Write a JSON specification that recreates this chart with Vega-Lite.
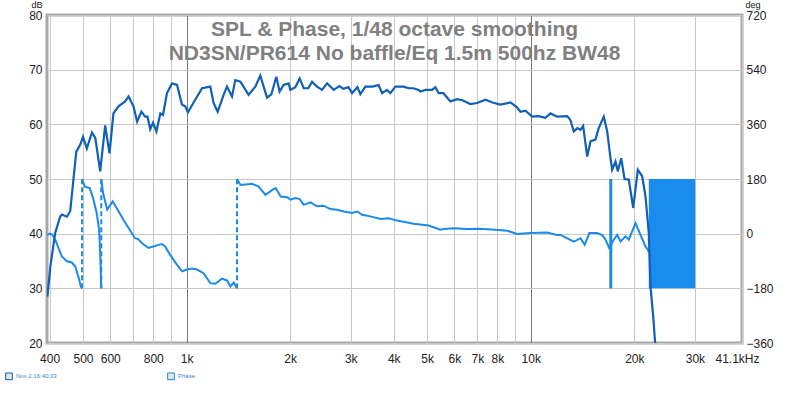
{
  "$schema": "https://vega.github.io/schema/vega-lite/v6.json",
  "autosize": {"type": "none"},
  "padding": {"left": 47, "top": 15, "right": 58, "bottom": 55},
  "width": 695,
  "height": 328,
  "background": "white",
  "config": {
    "view": {"stroke": "#a8a8a8", "strokeWidth": 3},
    "font": "Liberation Sans",
    "axis": {"labelFont": "Liberation Sans", "labelFontSize": 12, "labelColor": "#222222", "titleFont": "Liberation Sans", "titleFontSize": 9, "titleFontWeight": "normal", "titleColor": "#222222", "domain": false, "ticks": false}
  },
  "title": {
    "text": ["SPL & Phase, 1/48 octave smoothing", "ND3SN/PR614 No baffle/Eq 1.5m 500hz BW48"],
    "anchor": "middle", "frame": "group", "font": "Liberation Sans", "fontSize": 21, "fontWeight": "bold", "color": "#808080", "lineHeight": 24, "baseline": "top", "offset": -64
  },
  "datasets": {
    "spl": [
      {"f":394,"db":28.5},{"f":402,"db":34.0},{"f":415,"db":40.1},{"f":429,"db":43.1},{"f":434,"db":43.5},{"f":449,"db":43.1},{"f":459,"db":44.1},{"f":469,"db":49.9},{"f":478,"db":55.0},{"f":491,"db":56.3},{"f":500,"db":57.7},{"f":513,"db":55.6},{"f":531,"db":58.5},{"f":543,"db":57.5},{"f":561,"db":51.4},{"f":580,"db":59.8},{"f":597,"db":54.7},{"f":613,"db":62.0},{"f":634,"db":63.3},{"f":663,"db":64.2},{"f":678,"db":65.1},{"f":701,"db":63.3},{"f":718,"db":60.5},{"f":739,"db":62.3},{"f":758,"db":61.4},{"f":770,"db":61.4},{"f":784,"db":59.1},{"f":799,"db":60.3},{"f":817,"db":58.7},{"f":839,"db":62.0},{"f":854,"db":61.7},{"f":877,"db":65.7},{"f":907,"db":67.5},{"f":938,"db":67.2},{"f":970,"db":63.6},{"f":991,"db":63.3},{"f":1009,"db":62.2},{"f":1048,"db":64.0},{"f":1109,"db":66.6},{"f":1172,"db":66.9},{"f":1198,"db":63.9},{"f":1231,"db":62.3},{"f":1281,"db":65.4},{"f":1310,"db":66.9},{"f":1355,"db":65.1},{"f":1385,"db":68.1},{"f":1433,"db":67.8},{"f":1514,"db":65.4},{"f":1584,"db":66.9},{"f":1637,"db":68.9},{"f":1713,"db":64.9},{"f":1763,"db":65.5},{"f":1823,"db":68.7},{"f":1863,"db":66.0},{"f":1914,"db":67.2},{"f":1979,"db":67.5},{"f":2002,"db":66.3},{"f":2070,"db":66.8},{"f":2131,"db":68.4},{"f":2189,"db":66.6},{"f":2258,"db":66.6},{"f":2315,"db":67.8},{"f":2393,"db":66.9},{"f":2475,"db":66.3},{"f":2559,"db":67.5},{"f":2675,"db":66.3},{"f":2779,"db":67.0},{"f":2855,"db":66.5},{"f":2952,"db":66.8},{"f":3026,"db":65.7},{"f":3135,"db":66.8},{"f":3198,"db":65.5},{"f":3307,"db":66.9},{"f":3466,"db":66.9},{"f":3615,"db":67.2},{"f":3698,"db":65.7},{"f":3824,"db":66.3},{"f":3910,"db":65.7},{"f":4045,"db":66.9},{"f":4266,"db":66.9},{"f":4419,"db":66.6},{"f":4560,"db":66.6},{"f":4725,"db":66.3},{"f":4779,"db":66.0},{"f":4942,"db":66.3},{"f":5169,"db":66.3},{"f":5284,"db":66.8},{"f":5402,"db":65.7},{"f":5574,"db":65.7},{"f":5842,"db":64.2},{"f":6109,"db":64.6},{"f":6330,"db":64.4},{"f":6677,"db":63.7},{"f":6984,"db":63.9},{"f":7386,"db":64.5},{"f":7740,"db":64.0},{"f":8166,"db":63.6},{"f":8730,"db":64.0},{"f":9087,"db":63.2},{"f":9335,"db":62.3},{"f":9652,"db":62.5},{"f":10094,"db":61.4},{"f":10530,"db":61.5},{"f":11030,"db":61.2},{"f":11410,"db":62.0},{"f":11930,"db":61.4},{"f":12760,"db":61.5},{"f":13040,"db":60.8},{"f":13340,"db":58.7},{"f":13670,"db":59.3},{"f":13950,"db":59.0},{"f":14200,"db":59.7},{"f":14590,"db":54.1},{"f":14920,"db":56.9},{"f":15420,"db":57.2},{"f":15760,"db":59.3},{"f":16300,"db":61.4},{"f":16680,"db":58.7},{"f":17050,"db":53.8},{"f":17240,"db":51.7},{"f":17630,"db":53.2},{"f":17900,"db":51.4},{"f":18320,"db":53.8},{"f":18730,"db":50.0},{"f":19270,"db":49.9},{"f":19850,"db":44.7},{"f":20470,"db":51.7},{"f":21080,"db":50.5},{"f":21550,"db":46.8},{"f":22030,"db":40.1},{"f":22280,"db":30.3},{"f":22690,"db":24.9},{"f":23040,"db":19.1},{"f":23300,"db":16.0}
    ],
    "phase": [
      {"f":394,"deg":-4,"seg":1},{"f":400,"deg":0,"seg":1},{"f":406,"deg":-2,"seg":1},{"f":415,"deg":-19,"seg":1},{"f":434,"deg":-75,"seg":1},{"f":449,"deg":-91,"seg":1},{"f":464,"deg":-95,"seg":1},{"f":475,"deg":-108,"seg":1},{"f":486,"deg":-146,"seg":1},{"f":493,"deg":-174,"seg":1},{"f":497,"deg":-180,"seg":1},
      {"f":497,"deg":180,"seg":2},{"f":506,"deg":155,"seg":2},{"f":523,"deg":150,"seg":2},{"f":535,"deg":117,"seg":2},{"f":548,"deg":68,"seg":2},{"f":557,"deg":13,"seg":2},{"f":561,"deg":-64,"seg":2},{"f":565,"deg":-180,"seg":2},
      {"f":565,"deg":180,"seg":3},{"f":572,"deg":133,"seg":3},{"f":588,"deg":79,"seg":3},{"f":610,"deg":106,"seg":3},{"f":627,"deg":84,"seg":3},{"f":656,"deg":45,"seg":3},{"f":685,"deg":11,"seg":3},{"f":708,"deg":-15,"seg":3},{"f":724,"deg":-18,"seg":3},{"f":741,"deg":-31,"seg":3},{"f":775,"deg":-47,"seg":3},{"f":801,"deg":-42,"seg":3},{"f":828,"deg":-37,"seg":3},{"f":847,"deg":-34,"seg":3},{"f":866,"deg":-42,"seg":3},{"f":895,"deg":-69,"seg":3},{"f":937,"deg":-102,"seg":3},{"f":970,"deg":-124,"seg":3},{"f":1003,"deg":-118,"seg":3},{"f":1037,"deg":-115,"seg":3},{"f":1072,"deg":-118,"seg":3},{"f":1120,"deg":-130,"seg":3},{"f":1172,"deg":-163,"seg":3},{"f":1212,"deg":-165,"seg":3},{"f":1267,"deg":-148,"seg":3},{"f":1310,"deg":-154,"seg":3},{"f":1341,"deg":-174,"seg":3},{"f":1371,"deg":-161,"seg":3},{"f":1401,"deg":-180,"seg":3},
      {"f":1401,"deg":180,"seg":4},{"f":1433,"deg":161,"seg":4},{"f":1466,"deg":161,"seg":4},{"f":1550,"deg":164,"seg":4},{"f":1619,"deg":155,"seg":4},{"f":1695,"deg":128,"seg":4},{"f":1775,"deg":144,"seg":4},{"f":1815,"deg":150,"seg":4},{"f":1877,"deg":122,"seg":4},{"f":1961,"deg":120,"seg":4},{"f":2002,"deg":112,"seg":4},{"f":2070,"deg":117,"seg":4},{"f":2131,"deg":114,"seg":4},{"f":2189,"deg":95,"seg":4},{"f":2289,"deg":103,"seg":4},{"f":2393,"deg":90,"seg":4},{"f":2502,"deg":92,"seg":4},{"f":2616,"deg":81,"seg":4},{"f":2740,"deg":79,"seg":4},{"f":2861,"deg":73,"seg":4},{"f":3026,"deg":68,"seg":4},{"f":3135,"deg":73,"seg":4},{"f":3236,"deg":62,"seg":4},{"f":3420,"deg":57,"seg":4},{"f":3657,"deg":48,"seg":4},{"f":3866,"deg":51,"seg":4},{"f":4088,"deg":43,"seg":4},{"f":4571,"deg":33,"seg":4},{"f":5052,"deg":27,"seg":4},{"f":5464,"deg":13,"seg":4},{"f":5586,"deg":15,"seg":4},{"f":5973,"deg":18,"seg":4},{"f":6534,"deg":15,"seg":4},{"f":7087,"deg":16,"seg":4},{"f":7700,"deg":14,"seg":4},{"f":8540,"deg":10,"seg":4},{"f":9130,"deg":-1,"seg":4},{"f":9980,"deg":2,"seg":4},{"f":11160,"deg":4,"seg":4},{"f":11930,"deg":-4,"seg":4},{"f":12200,"deg":-4,"seg":4},{"f":12900,"deg":-18,"seg":4},{"f":13340,"deg":-26,"seg":4},{"f":13950,"deg":-15,"seg":4},{"f":14350,"deg":-37,"seg":4},{"f":14800,"deg":2,"seg":4},{"f":15600,"deg":2,"seg":4},{"f":16130,"deg":-5,"seg":4},{"f":16500,"deg":-20,"seg":4},{"f":16900,"deg":-47,"seg":4},{"f":17430,"deg":-20,"seg":4},{"f":17830,"deg":-4,"seg":4},{"f":18240,"deg":-26,"seg":4},{"f":18850,"deg":-9,"seg":4},{"f":19270,"deg":-20,"seg":4},{"f":20160,"deg":35,"seg":4},{"f":20840,"deg":-4,"seg":4},{"f":21550,"deg":-42,"seg":4},{"f":21890,"deg":-53,"seg":4},{"f":22030,"deg":-60,"seg":4}
    ],
    "wraps": [{"f":497,"lo":-180,"hi":180},{"f":565,"lo":-180,"hi":180},{"f":1401,"lo":-180,"hi":180}],
    "spike": [{"f":17080,"lo":-180,"hi":180}],
    "block": [{"f":22030,"f2":30050,"lo":-180,"hi":180}]
  },
  "layer": [
    {
      "layer": [
        {
          "data": {"name": "block"},
          "mark": {"type": "rect", "color": "#1a8cf0", "opacity": 1},
          "encoding": {
            "x": {"field": "f", "type": "quantitative", "scale": {"type": "log", "domain": [393, 41100], "nice": false}},
            "x2": {"field": "f2"},
            "y": {"field": "lo", "type": "quantitative", "scale": {"domain": [-360, 720], "nice": false}, "axis": {"orient": "right", "values": [-360, -180, 0, 180, 360, 540, 720], "grid": false, "labelPadding": 4, "title": "deg", "titleAngle": 0, "titleAlign": "left", "titleBaseline": "bottom", "titleX": 3, "titleY": -6}},
            "y2": {"field": "hi"}
          }
        },
        {
          "data": {"name": "wraps"},
          "mark": {"type": "rule", "color": "#1e8ae8", "strokeWidth": 2, "strokeDash": [5, 3]},
          "encoding": {
            "x": {"field": "f", "type": "quantitative"},
            "y": {"field": "lo", "type": "quantitative"},
            "y2": {"field": "hi"}
          }
        },
        {
          "data": {"name": "spike"},
          "mark": {"type": "rule", "color": "#1e8ae8", "strokeWidth": 3},
          "encoding": {
            "x": {"field": "f", "type": "quantitative"},
            "y": {"field": "lo", "type": "quantitative"},
            "y2": {"field": "hi"}
          }
        },
        {
          "data": {"name": "phase"},
          "mark": {"type": "line", "strokeWidth": 2, "clip": true},
          "encoding": {
            "x": {"field": "f", "type": "quantitative"},
            "y": {"field": "deg", "type": "quantitative"},
            "detail": {"field": "seg", "type": "nominal"},
            "order": {"field": "f", "type": "quantitative"},
            "color": {"datum": "Phase", "type": "nominal"}
          }
        }
      ]
    },
    {
      "data": {"name": "spl"},
      "mark": {"type": "line", "strokeWidth": 2.2, "clip": true},
      "encoding": {
        "x": {"field": "f", "type": "quantitative", "scale": {"type": "log", "domain": [393, 41100], "nice": false},
          "axis": {"orient": "bottom", "values": [400, 500, 600, 700, 800, 900, 1000, 2000, 3000, 4000, 5000, 6000, 7000, 8000, 9000, 10000, 20000, 30000, 41100],
            "labelExpr": "datum.value == 41100 ? '41.1kHz' : (datum.value == 700 || datum.value == 900 || datum.value == 9000) ? '' : datum.value >= 1000 ? (datum.value / 1000) + 'k' : '' + datum.value",
            "labelPadding": 10, "labelFlush": false, "labelOverlap": false, "title": null, "grid": true,
            "labelOffset": {"condition": {"test": "datum.value == 41100", "value": -5}, "value": 0},
            "gridColor": {"condition": {"test": "datum.value == 1000 || datum.value == 10000", "value": "#7a7a7a"}, "value": "#c8c8c8"}}},
        "y": {"field": "db", "type": "quantitative", "scale": {"domain": [20, 80], "nice": false},
          "axis": {"orient": "left", "values": [20, 30, 40, 50, 60, 70, 80], "grid": true, "gridColor": "#c8c8c8", "labelPadding": 5, "title": "dB", "titleAngle": 0, "titleAlign": "right", "titleBaseline": "bottom", "titleX": -5, "titleY": -6}},
        "color": {"datum": "Nov 2 16:40:33", "type": "nominal",
          "scale": {"domain": ["Nov 2 16:40:33", "Phase"], "range": ["#1060b8", "#1e8ae8"]},
          "legend": {"orient": "none", "legendX": -42, "legendY": 357, "direction": "horizontal", "title": null, "labelFontSize": 6, "labelColor": "#3a86d8", "symbolType": "square", "symbolSize": 45, "labelOffset": 3, "columnPadding": 108,
            "encode": {"symbols": {"update": {"fill": {"value": "#e6e6e6"}, "stroke": {"value": "#707070"}, "strokeWidth": {"value": 1}}}}}}
      }
    }
  ],
  "resolve": {"scale": {"y": "independent"}}
}
